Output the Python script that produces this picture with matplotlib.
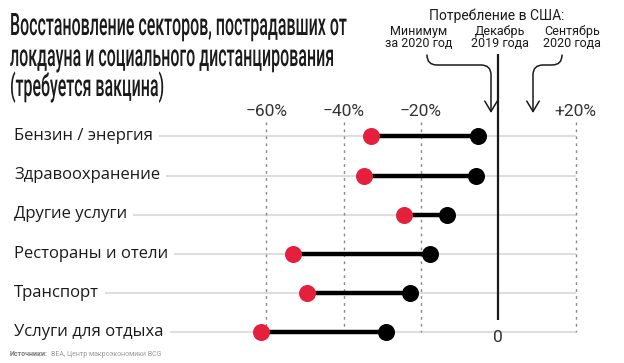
import matplotlib
matplotlib.use("Agg")
import matplotlib.pyplot as plt
import matplotlib.transforms as mtransforms
from matplotlib.path import Path
from matplotlib.patches import FancyArrowPatch
from matplotlib.patheffects import AbstractPathEffect
from matplotlib.text import Text

# data (percent change vs December 2019)
sectors = ["Бензин / энергия", "Здравоохранение", "Другие услуги",
           "Рестораны и отели", "Транспорт", "Услуги для отдыха"]
min_2020 = [-32.9, -34.7, -24.4, -53.0, -49.5, -61.5]
sep_2020 = [-5.3, -5.8, -13.2, -17.8, -22.8, -29.0]
tick_values = [-60, -40, -20, 20]
tick_labels = ["−60%", "−40%", "−20%", "+20%"]

title_lines = ["Восстановление секторов, пострадавших от",
               "локдауна и социального дистанцирования",
               "(требуется вакцина)"]

RED = "#e5203c"
DARK = "#1a1a1a"
W, H, DPI = 624, 363, 100

plt.rcParams["font.family"] = ["Roboto", "DejaVu Sans"]


class Stretch(AbstractPathEffect):
    """Scale the glyphs vertically around the baseline y0."""

    def __init__(self, sy, y0):
        super().__init__()
        self.sy = sy
        self.y0 = y0

    def draw_path(self, renderer, gc, tpath, affine, rgbFace=None):
        stretch = (mtransforms.Affine2D().translate(0, -self.y0)
                   .scale(1, self.sy).translate(0, self.y0))
        renderer.draw_path(gc, tpath, affine + stretch, rgbFace)


class TallText(Text):
    """Baseline-aligned text drawn taller than its font size (condensed look)."""

    def __init__(self, *args, sy=1.0, **kwargs):
        super().__init__(*args, **kwargs)
        self.sy = sy

    def draw(self, renderer):
        y0 = self.get_transform().transform(self.get_position())[1]
        self.set_path_effects([Stretch(self.sy, y0)])
        super().draw(renderer)


fig = plt.figure(figsize=(W / DPI, H / DPI), dpi=DPI)
ax = fig.add_axes([0, 0, 1, 1])
ax.set_xlim(-128.9, 32.5)
ax.set_ylim(5.78, -3.48)
ax.axis("off")

# pixel coordinates measured from the top-left corner
top = mtransforms.Affine2D().scale(1 / W, -1 / H).translate(0, 1) + fig.transFigure
x_data_y_px = mtransforms.blended_transform_factory(ax.transData, top)
x_px_y_data = mtransforms.blended_transform_factory(top, ax.transData)

rows = list(range(len(sectors)))

# title
title_texts = []
for line, base in zip(title_lines, [35, 66, 96]):
    t = TallText(10, base, line, transform=top, fontsize=12, color=DARK,
                 fontweight="medium", va="baseline", ha="left", figure=fig)
    fig.texts.append(t)
    title_texts.append(t)

# row labels
label_texts = []
for i, name in zip(rows, sectors):
    t = ax.text(14, i + 0.09, name, transform=x_px_y_data, fontsize=12,
                family=["Open Sans", "DejaVu Sans"],
                color=DARK, va="baseline", ha="left")
    label_texts.append(t)

fig.canvas.draw()
renderer = fig.canvas.get_renderer()

# fit the first title line to 335 px, then stretch glyphs to 22 px caps
w0 = title_texts[0].get_window_extent(renderer).width
fs = 12 * 335 / w0
for t in title_texts:
    t.set_fontsize(fs)
    t.sy = 22 / (0.711 * fs * DPI / 72)

# light row guides start right after each label
for i, t in zip(rows, label_texts):
    x1 = t.get_window_extent(renderer).x1 + 6
    xs = ax.transData.inverted().transform((x1, 0))[0]
    ax.hlines(i, xs, 20, color="#dedede", lw=1.5, zorder=0)

# dotted grid and the zero line
ax.vlines(tick_values, -0.365, 4.99, color="#8a8a8a", lw=1,
          linestyles=(0, (2, 3)), zorder=0)
ax.vlines(0, -2.1, 4.68, color=DARK, lw=1.6, zorder=1)

for v, lab in zip(tick_values, tick_labels):
    ax.text(v, 116, lab, transform=x_data_y_px, fontsize=12.5, color="#333333",
            ha="center", va="baseline")
ax.text(0, 342, "0", transform=x_data_y_px, fontsize=12.5, color="#333333",
        ha="center", va="baseline")

# dumbbells
for i, a, b in zip(rows, min_2020, sep_2020):
    ax.plot([a, b], [i, i], color="black", lw=3.2, zorder=2,
            solid_capstyle="butt")
ax.scatter(min_2020, rows, s=150, color=RED, zorder=3, linewidths=0)
ax.scatter(sep_2020, rows, s=150, color="black", zorder=3, linewidths=0)

# header annotations
fig.text(497, 20, "Потребление в США:", transform=top, fontsize=10,
         color=DARK, ha="center", va="baseline")
for cx, txt in [(419, "Минимум\nза 2020 год"),
                (500, "Декабрь\n2019 года"),
                (572, "Сентябрь\n2020 года")]:
    fig.text(cx, 47, txt, transform=top, fontsize=9, color=DARK,
             ha="center", va="baseline", linespacing=0.85)

C3, L, M = Path.CURVE3, Path.LINETO, Path.MOVETO
left_path = Path([(427, 55), (427, 65), (437, 65), (481, 65),
                  (491, 65), (491, 75), (491, 113)],
                 [M, C3, C3, L, C3, C3, L])
right_path = Path([(562, 55), (562, 65), (552, 65), (543, 65),
                   (533, 65), (533, 75), (533, 113)],
                  [M, C3, C3, L, C3, C3, L])
for p in (left_path, right_path):
    fig.patches.append(FancyArrowPatch(
        path=p, transform=top, arrowstyle="->,head_length=0.5,head_width=0.3",
        mutation_scale=15, color=DARK, lw=1.1))

# source note
src = fig.text(10, 356, "Источники:", transform=top, fontsize=5,
               color="#7a7a7a", fontweight="bold", va="baseline")
fig.canvas.draw()
sx = src.get_window_extent(renderer).x1
fig.text(sx + 3, 356, "BEA, Центр макроэкономики BCG", transform=top,
         fontsize=5, color="#9a9a9a", va="baseline")

fig.savefig("out.png", dpi=DPI)
